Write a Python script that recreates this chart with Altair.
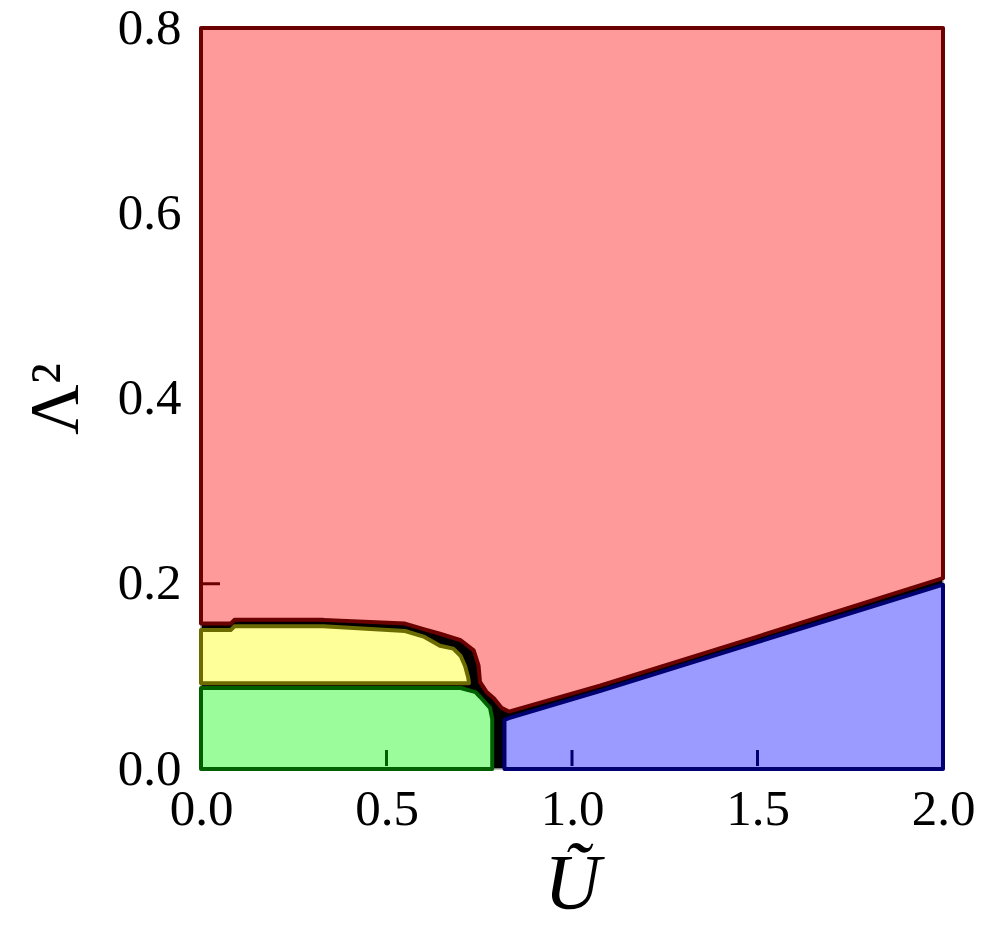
import altair as alt
import pandas as pd

# ---- phase boundaries (U~, Lambda^2) ----
red_x = [0.0, 0.08, 0.09, 0.33, 0.55, 0.60, 0.644, 0.70, 0.735, 0.748, 0.752, 0.77, 0.79, 0.81, 0.83, 1.075, 1.5, 2.0]
red_lo = [0.157, 0.157, 0.161, 0.161, 0.157, 0.151, 0.146, 0.139, 0.128, 0.112, 0.094, 0.083, 0.076, 0.066, 0.062, 0.090, 0.143, 0.206]

yellow_x = [0.0, 0.08, 0.09, 0.33, 0.55, 0.60, 0.644, 0.68, 0.70, 0.712, 0.72, 0.722]
yellow_hi = [0.150, 0.150, 0.154, 0.154, 0.149, 0.143, 0.133, 0.130, 0.122, 0.111, 0.099, 0.094]
yellow_lo = 0.0925

green_x = [0.0, 0.70, 0.74, 0.752, 0.779, 0.785]
green_hi = [0.0875, 0.0875, 0.083, 0.078, 0.066, 0.054]

blue_x = [0.818, 0.83, 1.075, 1.5, 2.0]
blue_hi = [0.053, 0.055, 0.084, 0.137, 0.199]

regions = ["red", "yellow", "green", "blue"]
fills = ["#ff9a9a", "#ffff9a", "#9afc9a", "#9a9aff"]
strokes = ["#6b0000", "#6b6b00", "#006000", "#000070"]

x_ticks = [0.5, 1.0, 1.5]
x_tick_region = ["green", "blue", "blue"]
y_ticks = [0.2]
y_tick_region = ["red"]

x_labels = [0.0, 0.5, 1.0, 1.5, 2.0]
y_labels = [0.0, 0.2, 0.4, 0.6, 0.8]

rows = []
for x, lo in zip(red_x, red_lo):
    rows.append({"region": "red", "x": x, "lo": lo, "hi": 0.8})
for x, hi in zip(yellow_x, yellow_hi):
    rows.append({"region": "yellow", "x": x, "lo": yellow_lo, "hi": hi})
for x, hi in zip(green_x, green_hi):
    rows.append({"region": "green", "x": x, "lo": 0.0, "hi": hi})
for x, hi in zip(blue_x, blue_hi):
    rows.append({"region": "blue", "x": x, "lo": 0.0, "hi": hi})
df = pd.DataFrame(rows)

xt = pd.DataFrame({"v": x_ticks, "region": x_tick_region})
yt = pd.DataFrame({"v": y_ticks, "region": y_tick_region})

FONT = "Liberation Serif"
xscale = alt.Scale(domain=[0, 2], nice=False, zero=False, padding=0)
yscale = alt.Scale(domain=[0, 0.8], nice=False, zero=False)
fill_scale = alt.Scale(domain=regions, range=fills)
stroke_scale = alt.Scale(domain=regions, range=strokes)

xaxis = alt.Axis(values=x_labels, format=".1f", title="Ũ", ticks=False, domain=False,
                 grid=False, labelFont=FONT, labelFontSize=51, labelPadding=15,
                 labelFlush=False, labelColor="black", titleFont=FONT, titleFontSize=78,
                 titleFontStyle="italic", titleFontWeight="normal",
                 titleColor="black", titleY=138, titleBaseline="alphabetic")
yaxis = alt.Axis(values=y_labels, format=".1f", title="Λ²", ticks=False, domain=False,
                 grid=False, labelFont=FONT, labelFontSize=51, labelPadding=20,
                 labelFlush=False, labelColor="black", titleFont=FONT, titleFontSize=70,
                 titleFontWeight="normal", titleColor="black", titleX=-124,
                 titleBaseline="alphabetic")

base = alt.Chart(df)
layers = []
for reg in regions:
    layers.append(
        base.transform_filter(alt.datum.region == reg)
        .mark_area(orient="vertical", strokeWidth=4, strokeJoin="round", opacity=1)
        .encode(
            x=alt.X("x:Q", scale=xscale, axis=xaxis),
            y=alt.Y("lo:Q", scale=yscale, axis=yaxis, stack=None),
            y2="hi:Q",
            fill=alt.Fill("region:N", scale=fill_scale, legend=None),
            stroke=alt.Stroke("region:N", scale=stroke_scale, legend=None),
        )
    )

xtick_layer = alt.Chart(xt).mark_rule(strokeWidth=3).encode(
    x=alt.X("v:Q", scale=xscale),
    y=alt.value(738),
    y2=alt.value(722),
    color=alt.Color("region:N", scale=stroke_scale, legend=None),
)
ytick_layer = alt.Chart(yt).mark_rule(strokeWidth=3).encode(
    y=alt.Y("v:Q", scale=yscale),
    x=alt.value(2),
    x2=alt.value(19),
    color=alt.Color("region:N", scale=stroke_scale, legend=None),
)

chart = alt.layer(*layers, xtick_layer, ytick_layer).properties(
    width=742, height=741,
    autosize=alt.AutoSizeParams(type="none"),
    padding={"left": 201, "top": 28, "right": 45, "bottom": 169},
    background="white",
).configure_view(fill="black", stroke="#b0b0b0", strokeWidth=1.5)

chart.save("out.html", embed_options={"renderer": "svg", "actions": False})
